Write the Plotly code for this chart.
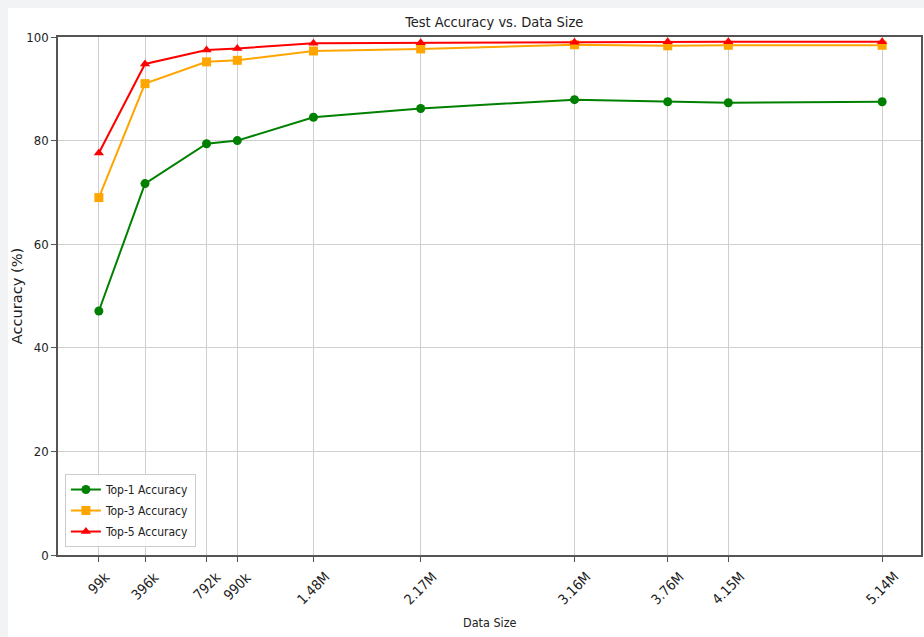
import plotly.graph_objects as go

data_size = [99e3, 396e3, 792e3, 990e3, 1.48e6, 2.17e6, 3.16e6, 3.76e6, 4.15e6, 5.14e6]
tick_labels = ["99k", "396k", "792k", "990k", "1.48M", "2.17M", "3.16M", "3.76M", "4.15M", "5.14M"]
top1 = [47.1, 71.7, 79.4, 80.0, 84.5, 86.2, 87.9, 87.5, 87.3, 87.5]
top3 = [69.0, 91.0, 95.2, 95.5, 97.3, 97.7, 98.5, 98.3, 98.4, 98.4]
top5 = [77.6, 94.8, 97.5, 97.8, 98.8, 98.9, 99.0, 99.1, 99.1, 99.1]

FONT = "DejaVu Sans Condensed, DejaVu Sans, sans-serif"
TXT = "#222222"

fig = go.Figure()
series = [
    ("Top-1 Accuracy", top1, "green", "circle"),
    ("Top-3 Accuracy", top3, "orange", "square"),
    ("Top-5 Accuracy", top5, "red", "triangle-up"),
]
for name, vals, col, sym in series:
    fig.add_trace(go.Scatter(
        x=data_size, y=vals, name=name, mode="lines+markers",
        legendgroup=name,
        line=dict(color=col, width=2),
        marker=dict(color=col, symbol=sym, size=9),
    ))

# x tick labels centred under their ticks (matplotlib style rotation)
annotations = [
    dict(x=v, y=0, xref="x", yref="paper", text=t, showarrow=False,
         textangle=-45, xanchor="center", yanchor="top", yshift=-11,
         font=dict(size=14, color=TXT, family=FONT))
    for v, t in zip(data_size, tick_labels)
]
annotations.append(dict(x=0.5, y=0, xref="paper", yref="paper", text="Data Size",
                        showarrow=False, xanchor="center", yanchor="middle", yshift=-67,
                        font=dict(size=12.5, color=TXT, family=FONT)))

fig.update_layout(
    width=916, height=629,
    margin=dict(l=50, r=1, t=29, b=82),
    paper_bgcolor="white",
    plot_bgcolor="white",
    font=dict(family=FONT, size=13, color=TXT),
    title=dict(text="Test Accuracy vs. Data Size", x=0.5308, xanchor="center",
               y=1 - 14 / 629, yanchor="middle", font=dict(size=14.5, color=TXT)),
    showlegend=True,
    legend=dict(x=0.008, y=0.0154, xanchor="left", yanchor="bottom",
                bgcolor="rgba(255,255,255,0.85)", bordercolor="#cccccc", borderwidth=1,
                font=dict(size=12), itemwidth=30, tracegroupgap=2),
    annotations=annotations,
)

fig.update_xaxes(
    range=[-0.164e6, 5.39e6],
    tickmode="array", tickvals=data_size, showticklabels=False,
    showgrid=True, gridcolor="#cfcfcf", gridwidth=1,
    showline=True, linecolor="#555555", linewidth=1.6, mirror=True,
    ticks="outside", ticklen=5, tickcolor="#555555",
    zeroline=False,
)
fig.update_yaxes(
    range=[0, 100], tickvals=[0, 20, 40, 60, 80, 100],
    showgrid=True, gridcolor="#cfcfcf", gridwidth=1,
    showline=True, linecolor="#555555", linewidth=1.6, mirror=True,
    ticks="outside", ticklen=5, tickcolor="#555555",
    zeroline=False,
    title=dict(text="Accuracy (%)", font=dict(size=14.6, family="DejaVu Sans"), standoff=4),
)

page_js = (
    "document.documentElement.style.overflow='hidden';"
    "document.body.style.overflow='hidden';"
    "document.body.style.margin='8px 0 0 8px';"
    "document.body.style.background='#f2f3f5';"
)
fig.write_html("out.html", post_script=page_js)
